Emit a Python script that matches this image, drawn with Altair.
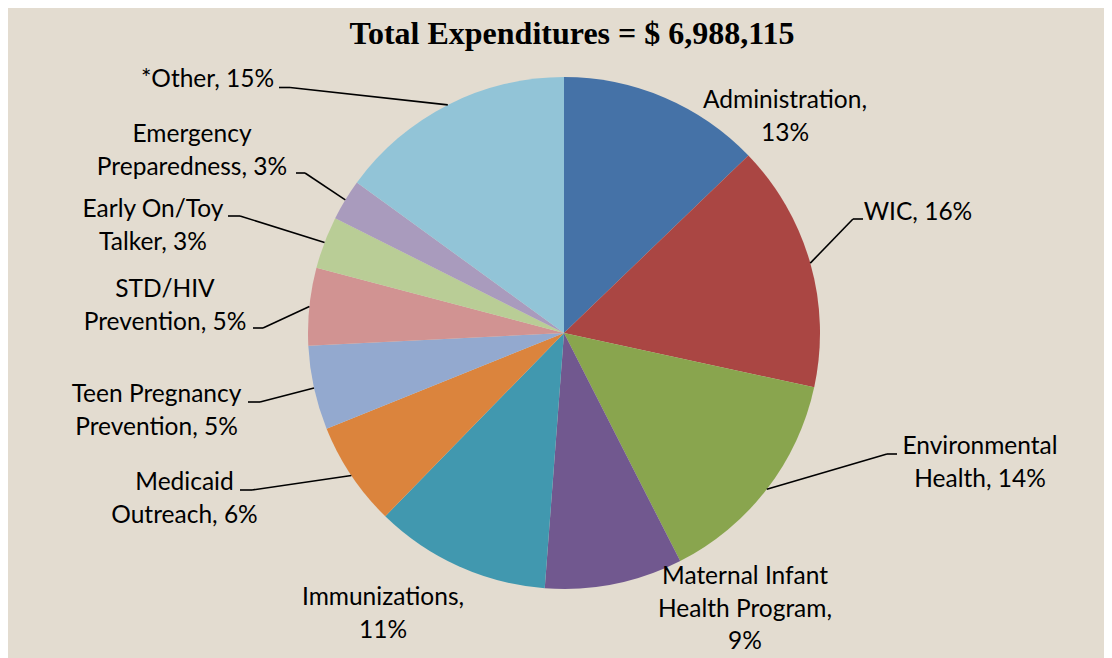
import altair as alt
import pandas as pd

# ---- data ----
categories = [
    "Administration", "WIC", "Environmental Health",
    "Maternal Infant Health Program", "Immunizations", "Medicaid Outreach",
    "Teen Pregnancy Prevention", "STD/HIV Prevention", "Early On/Toy Talker",
    "Emergency Preparedness", "*Other",
]
shares = [12.8, 15.6, 14.1, 8.7, 11.1, 6.6, 5.3, 4.9, 3.3, 2.6, 15.0]
label_text = [
    "Administration,\n13%", "WIC, 16%", "Environmental\nHealth, 14%",
    "Maternal Infant\nHealth Program,\n9%", "Immunizations,\n11%",
    "Medicaid\nOutreach, 6%", "Teen Pregnancy\nPrevention, 5%",
    "STD/HIV\nPrevention, 5%", "Early On/Toy\nTalker, 3%",
    "Emergency\nPreparedness, 3%", "*Other, 15%",
]
colors = ["#4572A7", "#AA4643", "#89A54E", "#71588F", "#4198AF", "#DB843D",
          "#93A9CF", "#D19392", "#B9CD96", "#A99BBD", "#92C4D7"]
title_text = "Total Expenditures = $ 6,988,115"

# ---- layout (page pixel coordinates; y is the first text line's centre) ----
label_x = [785, 918, 980, 745, 383, 184.5, 156.5, 165, 153, 192, 207.5]
label_y = [101, 213, 447, 577, 598, 483, 395, 290, 210, 135, 80]
lead_start_x = [None, 863, 897, None, None, 240, 248, 253, 228, 296, 279]
lead_elbow_x = [None, 853, 887, None, None, 252, 260, 263, 240, 305, 290]
lead_y = [None, 219, 454, None, None, 490, 402, 328, 216, 173, 87.5]
CX, CY, R = 564, 333, 256

df = pd.DataFrame({
    "idx": list(range(len(categories))),
    "category": categories,
    "share": shares,
    "label": label_text,
    "lx": label_x,
    "ly": label_y,
    "sx": lead_start_x,
    "mx": lead_elbow_x,
    "sy": lead_y,
})

W, H, TOP = 1096, 600, 50
xs = alt.Scale(domain=[8, 8 + W], nice=False, zero=False)
ys = alt.Scale(domain=[8 + TOP, 8 + TOP + H], nice=False, zero=False, reverse=True)

pie = alt.Chart(df).mark_arc(outerRadius=R, strokeWidth=0).encode(
    theta=alt.Theta("share:Q", stack=True),
    order=alt.Order("idx:Q"),
    color=alt.Color("category:N", scale=alt.Scale(domain=categories, range=colors), legend=None),
    x=alt.value(CX - 8),
    y=alt.value(CY - 8 - TOP),
)

labels = alt.Chart(df).mark_text(
    font="Lato", fontSize=24.5, align="center", baseline="middle",
    lineBreak="\n", lineHeight=32.5, color="#000000",
).encode(
    x=alt.X("lx:Q", scale=xs, axis=None),
    y=alt.Y("ly:Q", scale=ys, axis=None),
    text="label:N",
)

base_lead = (
    alt.Chart(df)
    .transform_window(cum="sum(share)", sort=[alt.SortField("idx")], frame=[None, 0])
    .transform_joinaggregate(total="sum(share)")
    .transform_calculate(mid="2*PI*(datum.cum - datum.share/2)/datum.total")
    .transform_calculate(ex=f"{CX} + {R}*sin(datum.mid)", ey=f"{CY} - {R}*cos(datum.mid)")
    .transform_filter("datum.sx != null")
)

seg1 = base_lead.mark_rule(color="#000000", strokeWidth=1.6).encode(
    x=alt.X("sx:Q", scale=xs, axis=None), x2="mx:Q",
    y=alt.Y("sy:Q", scale=ys, axis=None), y2="sy:Q",
)
seg2 = base_lead.mark_rule(color="#000000", strokeWidth=1.6).encode(
    x=alt.X("mx:Q", scale=xs, axis=None), x2="ex:Q",
    y=alt.Y("sy:Q", scale=ys, axis=None), y2="ey:Q",
)

chart = alt.layer(pie, seg1, seg2, labels).properties(
    width=W, height=H,
    autosize=alt.AutoSizeParams(type="none"),
    padding={"left": 0, "top": TOP, "right": 0, "bottom": 0},
    background="#E3DCD0",
    title=alt.TitleParams(
        title_text, font="Liberation Serif", fontSize=32, fontWeight="bold",
        anchor="middle", frame="group", dx=16, offset=7, color="#000000",
    ),
).configure_view(stroke=None)

chart.save("out.html", embed_options={"renderer": "svg", "actions": False})
